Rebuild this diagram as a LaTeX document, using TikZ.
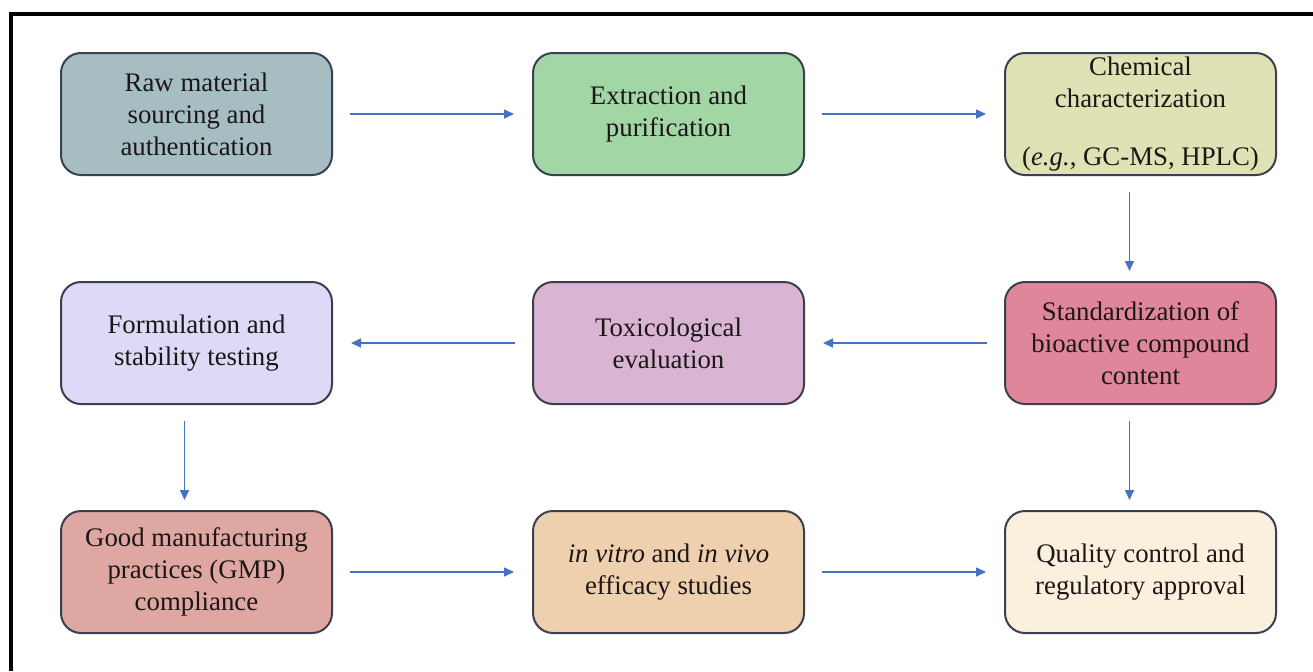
\documentclass[tikz,border=0pt]{standalone}
\usepackage{fontspec}
\setmainfont{Liberation Serif}
\usepackage{tikz}
\usetikzlibrary{positioning,arrows.meta}

\definecolor{rawcol}{RGB}{166,190,194}
\definecolor{extcol}{RGB}{163,214,165}
\definecolor{chemcol}{RGB}{222,226,181}
\definecolor{stdcol}{RGB}{224,134,154}
\definecolor{toxcol}{RGB}{217,181,211}
\definecolor{formcol}{RGB}{220,218,246}
\definecolor{gmpcol}{RGB}{223,167,161}
\definecolor{vitrocol}{RGB}{238,208,174}
\definecolor{qualcol}{RGB}{251,239,221}
\definecolor{edgecol}{RGB}{59,64,80}
\definecolor{arrowcol}{RGB}{68,114,196}
\definecolor{txtcol}{RGB}{28,22,22}

\begin{document}
\begin{tikzpicture}[x=0.5pt,y=-0.5pt,
  node distance=52.5pt and 99.5pt,
  stepbox/.style={draw=edgecol, line width=1pt, rounded corners=10pt,
    minimum width=135.5pt, minimum height=61pt, align=center,
    text=txtcol, font=\fontsize{13.4}{16}\selectfont},
  flow/.style={draw=arrowcol, line width=0.75pt,
    -{Triangle[length=5pt,width=4.5pt]}, shorten <=8.5pt, shorten >=9pt},
  flowdown/.style={flow, shorten <=8pt, shorten >=5pt}]
  \useasboundingbox (0,0) rectangle (1313,671);
  % frame
  \draw[line width=1.6pt] (11,671) |- (1313,14);

  % top row
  \node[stepbox, fill=rawcol] (raw) at (196.5,114)
    {Raw material\\sourcing and\\authentication};
  \node[stepbox, fill=extcol, right=of raw] (extract)
    {Extraction and\\purification};
  \node[stepbox, fill=chemcol, inner ysep=0pt, right=of extract] (chem)
    {Chemical\\characterization\\[13pt](\textit{e.g.}, GC-MS, HPLC)};

  % middle row
  \node[stepbox, fill=stdcol, below=of chem] (std)
    {Standardization of\\bioactive compound\\content};
  \node[stepbox, fill=toxcol, left=of std] (tox)
    {Toxicological\\evaluation};
  \node[stepbox, fill=formcol, left=of tox] (form)
    {Formulation and\\stability testing};

  % bottom row
  \node[stepbox, fill=gmpcol, below=of form] (gmp)
    {Good manufacturing\\practices (GMP)\\compliance};
  \node[stepbox, fill=vitrocol, right=of gmp] (vitro)
    {\textit{in vitro} and \textit{in vivo}\\efficacy studies};
  \node[stepbox, fill=qualcol, right=of vitro] (qual)
    {Quality control and\\regulatory approval};

  % connectors
  \draw[flow] (raw) -- (extract);
  \draw[flow] (extract) -- (chem);
  \draw[flowdown] ([xshift=-5.5pt]chem.south) -- ([xshift=-5.5pt]std.north);
  \draw[flow] (std) -- (tox);
  \draw[flow] (tox) -- (form);
  \draw[flowdown] ([xshift=-6pt]form.south) -- ([xshift=-6pt]gmp.north);
  \draw[flowdown] ([xshift=-5.5pt]std.south) -- ([xshift=-5.5pt]qual.north);
  \draw[flow] (gmp) -- (vitro);
  \draw[flow] (vitro) -- (qual);
\end{tikzpicture}
\end{document}
